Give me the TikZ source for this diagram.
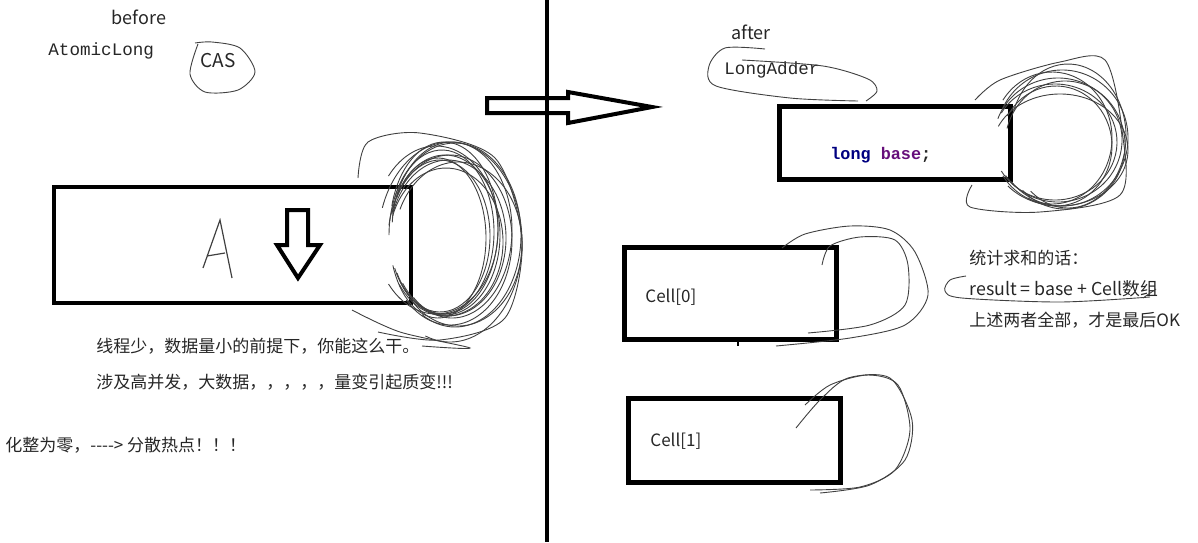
\documentclass[tikz,border=0pt]{standalone}
\usepackage{fontspec}
\setmainfont{Noto Sans CJK SC}
\newfontfamily\codefont{Liberation Mono}
\usetikzlibrary{arrows.meta, positioning}

\definecolor{keyword}{HTML}{000080}
\definecolor{field}{HTML}{660E7A}

\begin{document}
\begin{tikzpicture}[x=0.5pt, y=-0.5pt,
  box/.style={draw, line width=2.3pt, inner sep=0pt},
  txt/.style={inner sep=0pt, text=black!85, font=\fontsize{8.5}{10}\selectfont},
  code/.style={inner sep=0pt, text=black!85, font=\codefont\fontsize{8.8}{10}\selectfont},
  hollow/.style={draw, line width=2pt, line join=miter},
  scribble/.style={line width=0.45pt, black!75}]
  \useasboundingbox (0,0) rectangle (1198,542);

  % Left half: before
  \node[txt, font=\fontsize{9}{10}\selectfont] (before) at (139,17) {before};
  \node[code, anchor=west] (atomic) at (48,51) {AtomicLong};
  \node[txt, font=\fontsize{9.5}{10}\selectfont] (cas) at (218,61) {CAS};
  \draw[scribble] plot[smooth] coordinates {(195,43) (212,42) (240,48) (255,72) (238,90) (205,92) (190,74) (198,44)};

  \node[box, minimum width=178.5pt, minimum height=58pt] (boxA) at (232.5,245) {};
  % hand-written A
  \draw[scribble, line width=0.6pt] (203,268) -- (220,220) -- (232,278);
  \draw[scribble, line width=0.6pt] (207,256) -- (225,253);
  % down arrow
  \draw[hollow] (287,210) -- (308,210) -- (308,245) -- (320,245) -- (298,278)
    -- (277,245) -- (287,245) -- cycle;

  % scribbles round the hot spot
  \foreach \cx/\cy/\rx/\ry/\a/\b in {445/235/55/80/195/505, 448/238/58/78/200/500,
      442/232/52/82/205/510, 450/240/62/85/190/495, 440/236/50/76/210/515,
      452/230/60/88/185/490, 446/242/57/74/200/505, 455/235/66/92/180/480,
      438/238/48/80/215/520, 444/228/54/86/195/500, 458/244/64/82/205/495,
      450/242/72/100/200/470, 436/230/62/84/220/500}
    \draw[scribble] (\cx,\cy) ++({\rx*cos(\a)},{\ry*sin(\a)})
      arc[start angle=\a, end angle=\b, x radius=\rx, y radius=\ry];
  \draw[scribble] plot[smooth] coordinates {(358,178) (368,142) (420,133) (495,158)
    (522,240) (505,318) (440,340) (378,332)};
  \draw[scribble] plot[smooth] coordinates {(352,310) (400,332) (470,348) (422,346)};

  \node[txt, anchor=west] (few) at (96,346) {线程少，数据量小的前提下，你能这么干。};
  \node[txt, anchor=west] (many) at (96,382) {涉及高并发，大数据，，，，，量变引起质变!!!};
  \node[txt, anchor=west] (split) at (5,445) {化整为零，-{}-{}-{}-> 分散热点！！！};

  % arrow from before to after
  \draw[hollow] (487,98) -- (568,98) -- (568,92) -- (652,107) -- (568,123)
    -- (568,113) -- (487,113) -- cycle;
  \coordinate (top) at (547,0);
  \coordinate (bottom) at (547,542);
  \draw[line width=2pt] (top) -- (bottom);

  % Right half: after
  \node[txt, font=\fontsize{9}{10}\selectfont] (after) at (751,32) {after};
  \node[code, anchor=west] (adder) at (724,70) {LongAdder};
  \draw[scribble] plot[smooth] coordinates {(765,49) (725,48) (709,66) (716,86) (790,98) (858,101)};
  \draw[scribble] plot[smooth] coordinates {(742,60) (823,66) (868,79) (877,91) (866,101)};

  \node[box, minimum width=115.5pt, minimum height=36.5pt] (base) at (895,143) {};
  \node[code, font=\codefont\bfseries\fontsize{8.4}{10}\selectfont, anchor=west] (basetxt) at (830,155)
    {\textcolor{keyword}{long} \textcolor{field}{base};};
  \foreach \cx/\cy/\rx/\ry/\a/\b in {1058/140/64/62/200/505, 1062/138/66/68/205/500,
      1055/142/62/58/210/510, 1065/145/60/64/195/495, 1052/138/60/66/215/505,
      1068/136/58/72/200/490, 1060/150/68/56/205/500, 1056/146/56/60/210/480}
    \draw[scribble] (\cx,\cy) ++({\rx*cos(\a)},{\ry*sin(\a)})
      arc[start angle=\a, end angle=\b, x radius=\rx, y radius=\ry];
  \draw[scribble] plot[smooth] coordinates {(975,100) (1000,80) (1060,62) (1105,60)
    (1122,130) (1120,195) (1040,212) (970,207) (972,185)};

  \node[box, minimum width=106pt, minimum height=46pt] (cell0) at (730.5,293.5) {};
  \node[txt, anchor=west] (c0txt) at (645,297) {Cell[0]};
  \draw[scribble] plot[smooth] coordinates {(782,248) (805,234) (850,226) (890,230)
    (915,252) (928,295) (905,325) (850,338) (776,346)};
  \draw[scribble] plot[smooth] coordinates {(822,265) (830,246) (860,237) (895,240)
    (908,265) (905,305) (870,325) (808,333)};
  \draw[line width=1pt] (738,340) -- (738,346);

  \node[box, minimum width=106pt, minimum height=42pt] (cell1) at (734.5,440.5) {};
  \node[txt, anchor=west] (c1txt) at (650,441) {Cell[1]};
  \draw[scribble] plot[smooth] coordinates {(805,405) (830,385) (868,375) (898,385)
    (910,430) (895,470) (860,487) (810,490)};
  \draw[scribble] plot[smooth] coordinates {(796,428) (820,400) (848,378) (890,378)
    (912,420) (905,460) (870,485) (820,493)};

  % sum note
  \node[txt, anchor=west] (sum) at (969,258) {统计求和的话：};
  \node[txt, anchor=west, font=\fontsize{8.9}{10}\selectfont] (result) at (969,289) {result = base + Cell数组};
  \node[txt, anchor=west] (both) at (969,320) {上述两者全部，才是最后OK};
  \draw[scribble] plot[smooth] coordinates {(966,276) (950,280) (945,291) (962,298)
    (1060,302) (1150,297)};
  \draw[scribble] (1143,298) -- (1156,289);
\end{tikzpicture}
\end{document}
